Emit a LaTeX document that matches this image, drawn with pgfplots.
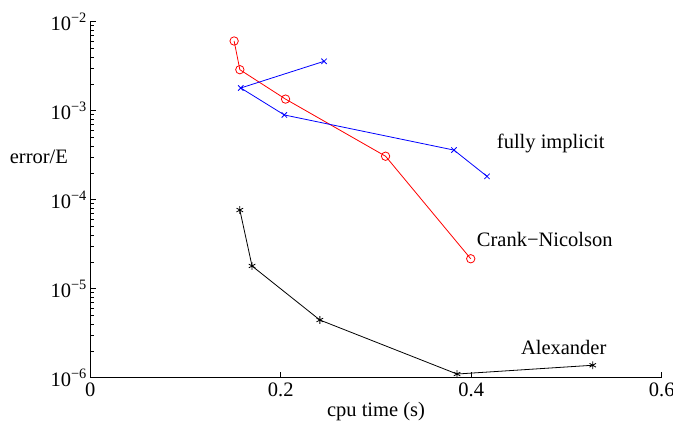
\documentclass[border=0pt]{standalone}
\usepackage{fontspec}
\setmainfont{Liberation Serif}
\usepackage{pgfplots}
\pgfplotsset{compat=1.18}
\begin{document}
\begin{tikzpicture}[font=\fontsize{20.5bp}{24bp}\selectfont]
\useasboundingbox (-90.3bp,-45.3bp) rectangle (582.7bp,377.7bp);
\begin{axis}[
  at={(0,0)}, anchor=south west,
  scale only axis, width=571.5bp, height=356bp,
  ymode=log, xmin=0, xmax=0.6, ymin=1e-6, ymax=1e-2,
  axis lines=left,
  x axis line style={-}, y axis line style={-},
  axis line style={line width=0.9bp},
  tick align=inside,
  major tick length=6bp, minor tick length=3.5bp,
  tick style={black, line width=0.7bp},
  xtick={0,0.2,0.4,0.6}, xticklabels={0,0.2,0.4,0.6},
  xticklabel style={yshift=-2bp},
  ytick={1e-6,1e-5,1e-4,1e-3,1e-2},
  yticklabels={10\textsuperscript{−6},10\textsuperscript{−5},10\textsuperscript{−4},10\textsuperscript{−3},10\textsuperscript{−2}},
  xlabel={cpu time (s)},
  ylabel={error/E},
  ylabel style={rotate=-90, at={(rel axis cs:-0.09,0.62)}, anchor=center},
  xlabel style={at={(rel axis cs:0.5,0)}, anchor=north, yshift=-21bp},
  clip=false,
]
\addplot[red, line width=0.8bp, mark=o, mark size=4.2bp] coordinates {
  (0.151,6.07e-3) (0.157,2.89e-3) (0.205,1.35e-3) (0.310,3.08e-4) (0.3994,2.17e-5)
};
\addplot[blue, line width=0.8bp, mark=x, mark size=3.8bp] coordinates {
  (0.2454,3.59e-3) (0.158,1.80e-3) (0.2037,8.96e-4) (0.3818,3.61e-4) (0.4165,1.83e-4)
};
\addplot[black, line width=0.8bp, mark=asterisk, mark size=3.8bp] coordinates {
  (0.157,7.66e-5) (0.1698,1.80e-5) (0.241,4.45e-6) (0.385,1.10e-6) (0.5275,1.38e-6)
};
\node[anchor=west, inner sep=0pt] at (axis cs:0.4267,4.23e-4) {fully implicit};
\node[anchor=west, inner sep=0pt] at (axis cs:0.4057,3.61e-5) {Crank−Nicolson};
\node[anchor=west, inner sep=0pt] at (axis cs:0.452,2.16e-6) {Alexander};
\end{axis}
\end{tikzpicture}
\end{document}
